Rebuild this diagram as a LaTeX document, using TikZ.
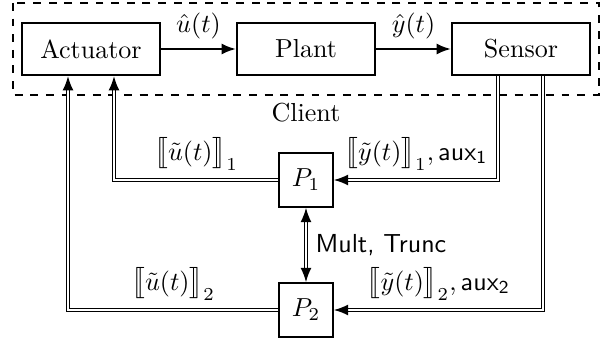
\documentclass[tikz,border=0pt]{standalone}
\usepackage{stmaryrd}
\usetikzlibrary{arrows.meta,calc}

\begin{document}
\begin{tikzpicture}[
    x=0.384pt, y=-0.384pt, line width=0.8pt,
    >={Latex[length=5.5pt,width=4.2pt]},
    block/.style={draw, minimum width=53pt, minimum height=20pt},
    party/.style={draw, minimum size=20.5pt, inner sep=0pt},
    share/.style={double, line width=0.65pt, double distance=0.6pt}
  ]
  \useasboundingbox (0,0) rectangle (610,343);

  \node [block] (act) at (91,49) {Actuator};
  \node [block] (plant) at (306,49) {Plant};
  \node [block] (sens) at (521,49) {Sensor};
  \draw [dashed, line width=0.9pt] (13,3) rectangle (599,95);
  \node (client) at (306,113) {Client};

  \node [party] (p1) at (306,180) {$P_1$};
  \node [party] (p2) at (306,310) {$P_2$};

  \draw [->] (act) -- node [above] {$\hat{u}(t)$} (plant);
  \draw [->] (plant) -- node [above] {$\hat{y}(t)$} (sens);

  % shares going back and forth
  \coordinate (a1) at ($(act.south)+(23,0)$);
  \coordinate (a2) at ($(act.south)+(-23,0)$);
  \coordinate (s1) at ($(sens.south)+(-23,0)$);
  \coordinate (s2) at ($(sens.south)+(22,0)$);

  \draw [share, ->] (p1.west) -| node [pos=0.25, above]
    {$\big\llbracket \tilde{u}(t) \big\rrbracket_1$} (a1);
  \draw [share, ->] (p2.west) -| node [pos=0.25, above]
    {$\big\llbracket \tilde{u}(t) \big\rrbracket_2$} (a2);
  \draw [share, ->] (s1) |- node [pos=0.75, above]
    {$\big\llbracket \tilde{y}(t) \big\rrbracket_1, \mathsf{aux_1}$} (p1.east);
  \draw [share, ->] (s2) |- node [pos=0.75, above]
    {$\big\llbracket \tilde{y}(t) \big\rrbracket_2, \mathsf{aux_2}$} (p2.east);

  \draw [share, <->] (p1) -- node [right] {\textsf{Mult, Trunc}} (p2);
\end{tikzpicture}
\end{document}
